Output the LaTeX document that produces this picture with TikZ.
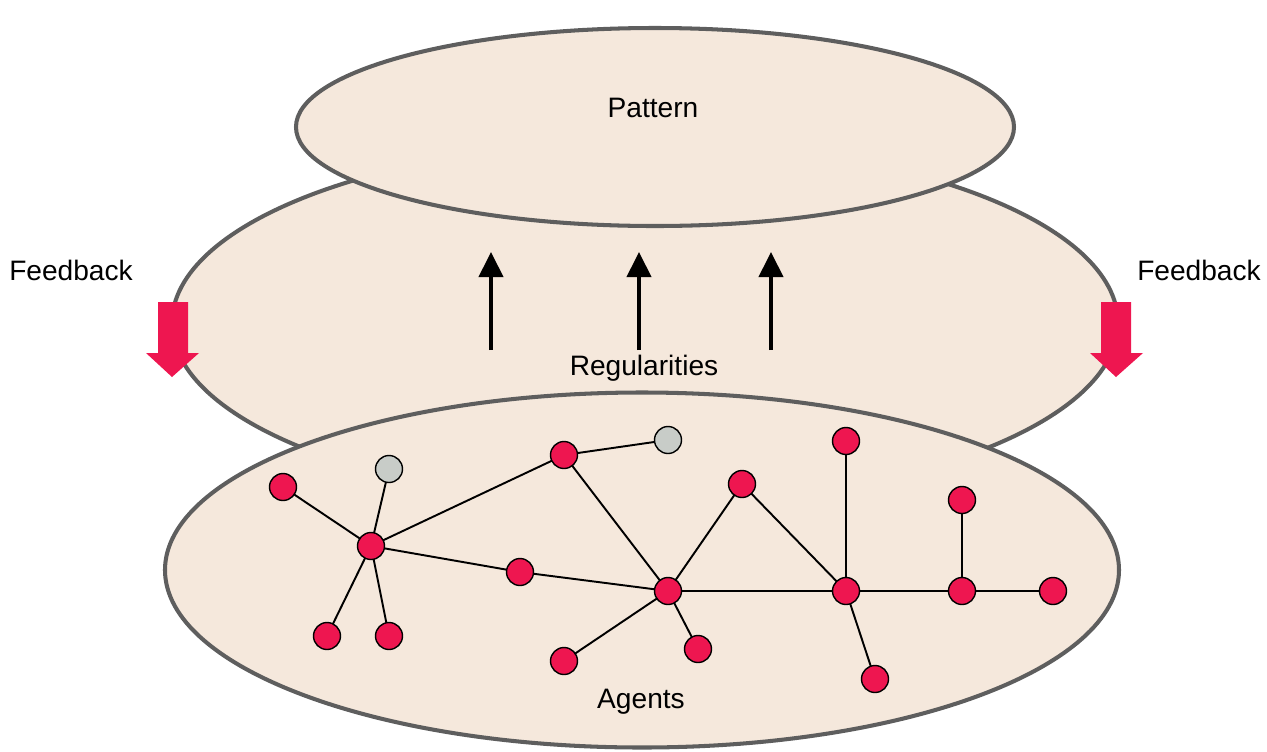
\documentclass[tikz,border=0pt]{standalone}
\usepackage{fontspec}
\setmainfont{Liberation Sans}
\usetikzlibrary{arrows.meta, shapes.geometric}

\definecolor{layerfill}{HTML}{F5E8DC}
\definecolor{layerline}{HTML}{5E5E5E}
\definecolor{agentred}{HTML}{EE1650}
\definecolor{agentgrey}{HTML}{C8CCC8}

\begin{document}
\begin{tikzpicture}[
    x=0.2mm, y=-0.2mm,
    >=Triangle,
    layer/.style={draw=layerline, line width=2.3pt, fill=layerfill, ellipse, inner sep=0pt},
    agent/.style={circle, draw=black, line width=0.8pt, fill=agentred, minimum size=0.54cm, inner sep=0pt},
    idle/.style={agent, fill=agentgrey},
    link/.style={line width=1.1pt},
    rise/.style={->, line width=2.3pt, arrows={-Triangle[length=0.5cm, width=0.48cm]}},
    feedback/.style={fill=agentred},
    font=\fontsize{16}{19}\selectfont
]
\useasboundingbox (0,0) rectangle (1267,751);

%-------------------------------------------------
% Layers
%-------------------------------------------------
\node[layer, minimum width=18.92cm, minimum height=7.24cm] (regularities) at (645,323) {};
\node[layer, minimum width=14.36cm, minimum height=3.96cm] (pattern)      at (655,127) {};
\node[layer, minimum width=19.08cm, minimum height=7.1cm]  (agents)       at (642,570) {};

\node (patternlabel) at (653,108) {Pattern};
\node (reglabel)     at (644,368) {Regularities};
\node (agentlabel)   at (641,702) {Agents};

%-------------------------------------------------
% Emergence
%-------------------------------------------------
\foreach \x in {491,639,771} {
    \coordinate (low\x)  at (\x,350);
    \coordinate (high\x) at (\x,252);
    \draw[rise] (low\x) -- (high\x);
}

%-------------------------------------------------
% Feedback
%-------------------------------------------------
\node (fbleft)  at (71,270)   {Feedback};
\node (fbright) at (1199,270) {Feedback};

\fill[feedback] (158,302) -- (188,302) -- (188,353) -- (199,353) -- (172,377)
    -- (146,353) -- (158,353) -- cycle;
\fill[feedback] (1101,302) -- (1131,302) -- (1131,353) -- (1143,353) -- (1116,377)
    -- (1090,353) -- (1101,353) -- cycle;

%-------------------------------------------------
% Agent network
%-------------------------------------------------
\coordinate (pa) at (283,487);  \coordinate (pb) at (389,469);
\coordinate (pc) at (371,546);  \coordinate (pd) at (327,636);
\coordinate (pe) at (389,636);  \coordinate (pf) at (520,572);
\coordinate (pg) at (564,455);  \coordinate (ph) at (668,440);
\coordinate (pi) at (668,591);  \coordinate (pj) at (742,484);
\coordinate (pk) at (564,661);  \coordinate (pl) at (698,649);
\coordinate (pm) at (846,441);  \coordinate (pn) at (846,591);
\coordinate (po) at (962,500);  \coordinate (pp) at (962,591);
\coordinate (pq) at (1053,591); \coordinate (pr) at (875,679);

\foreach \u/\v in {a/c, b/c, c/d, c/e, c/g, c/f, f/i, g/h, g/i, i/j,
                   j/n, i/n, m/n, n/p, o/p, p/q, n/r, i/k, i/l}
    \draw[link] (p\u) -- (p\v);

\foreach \n in {a,c,d,e,f,g,i,j,k,l,m,n,o,p,q,r}
    \node[agent] (n\n) at (p\n) {};
\foreach \n in {b,h}
    \node[idle] (n\n) at (p\n) {};

\end{tikzpicture}
\end{document}
